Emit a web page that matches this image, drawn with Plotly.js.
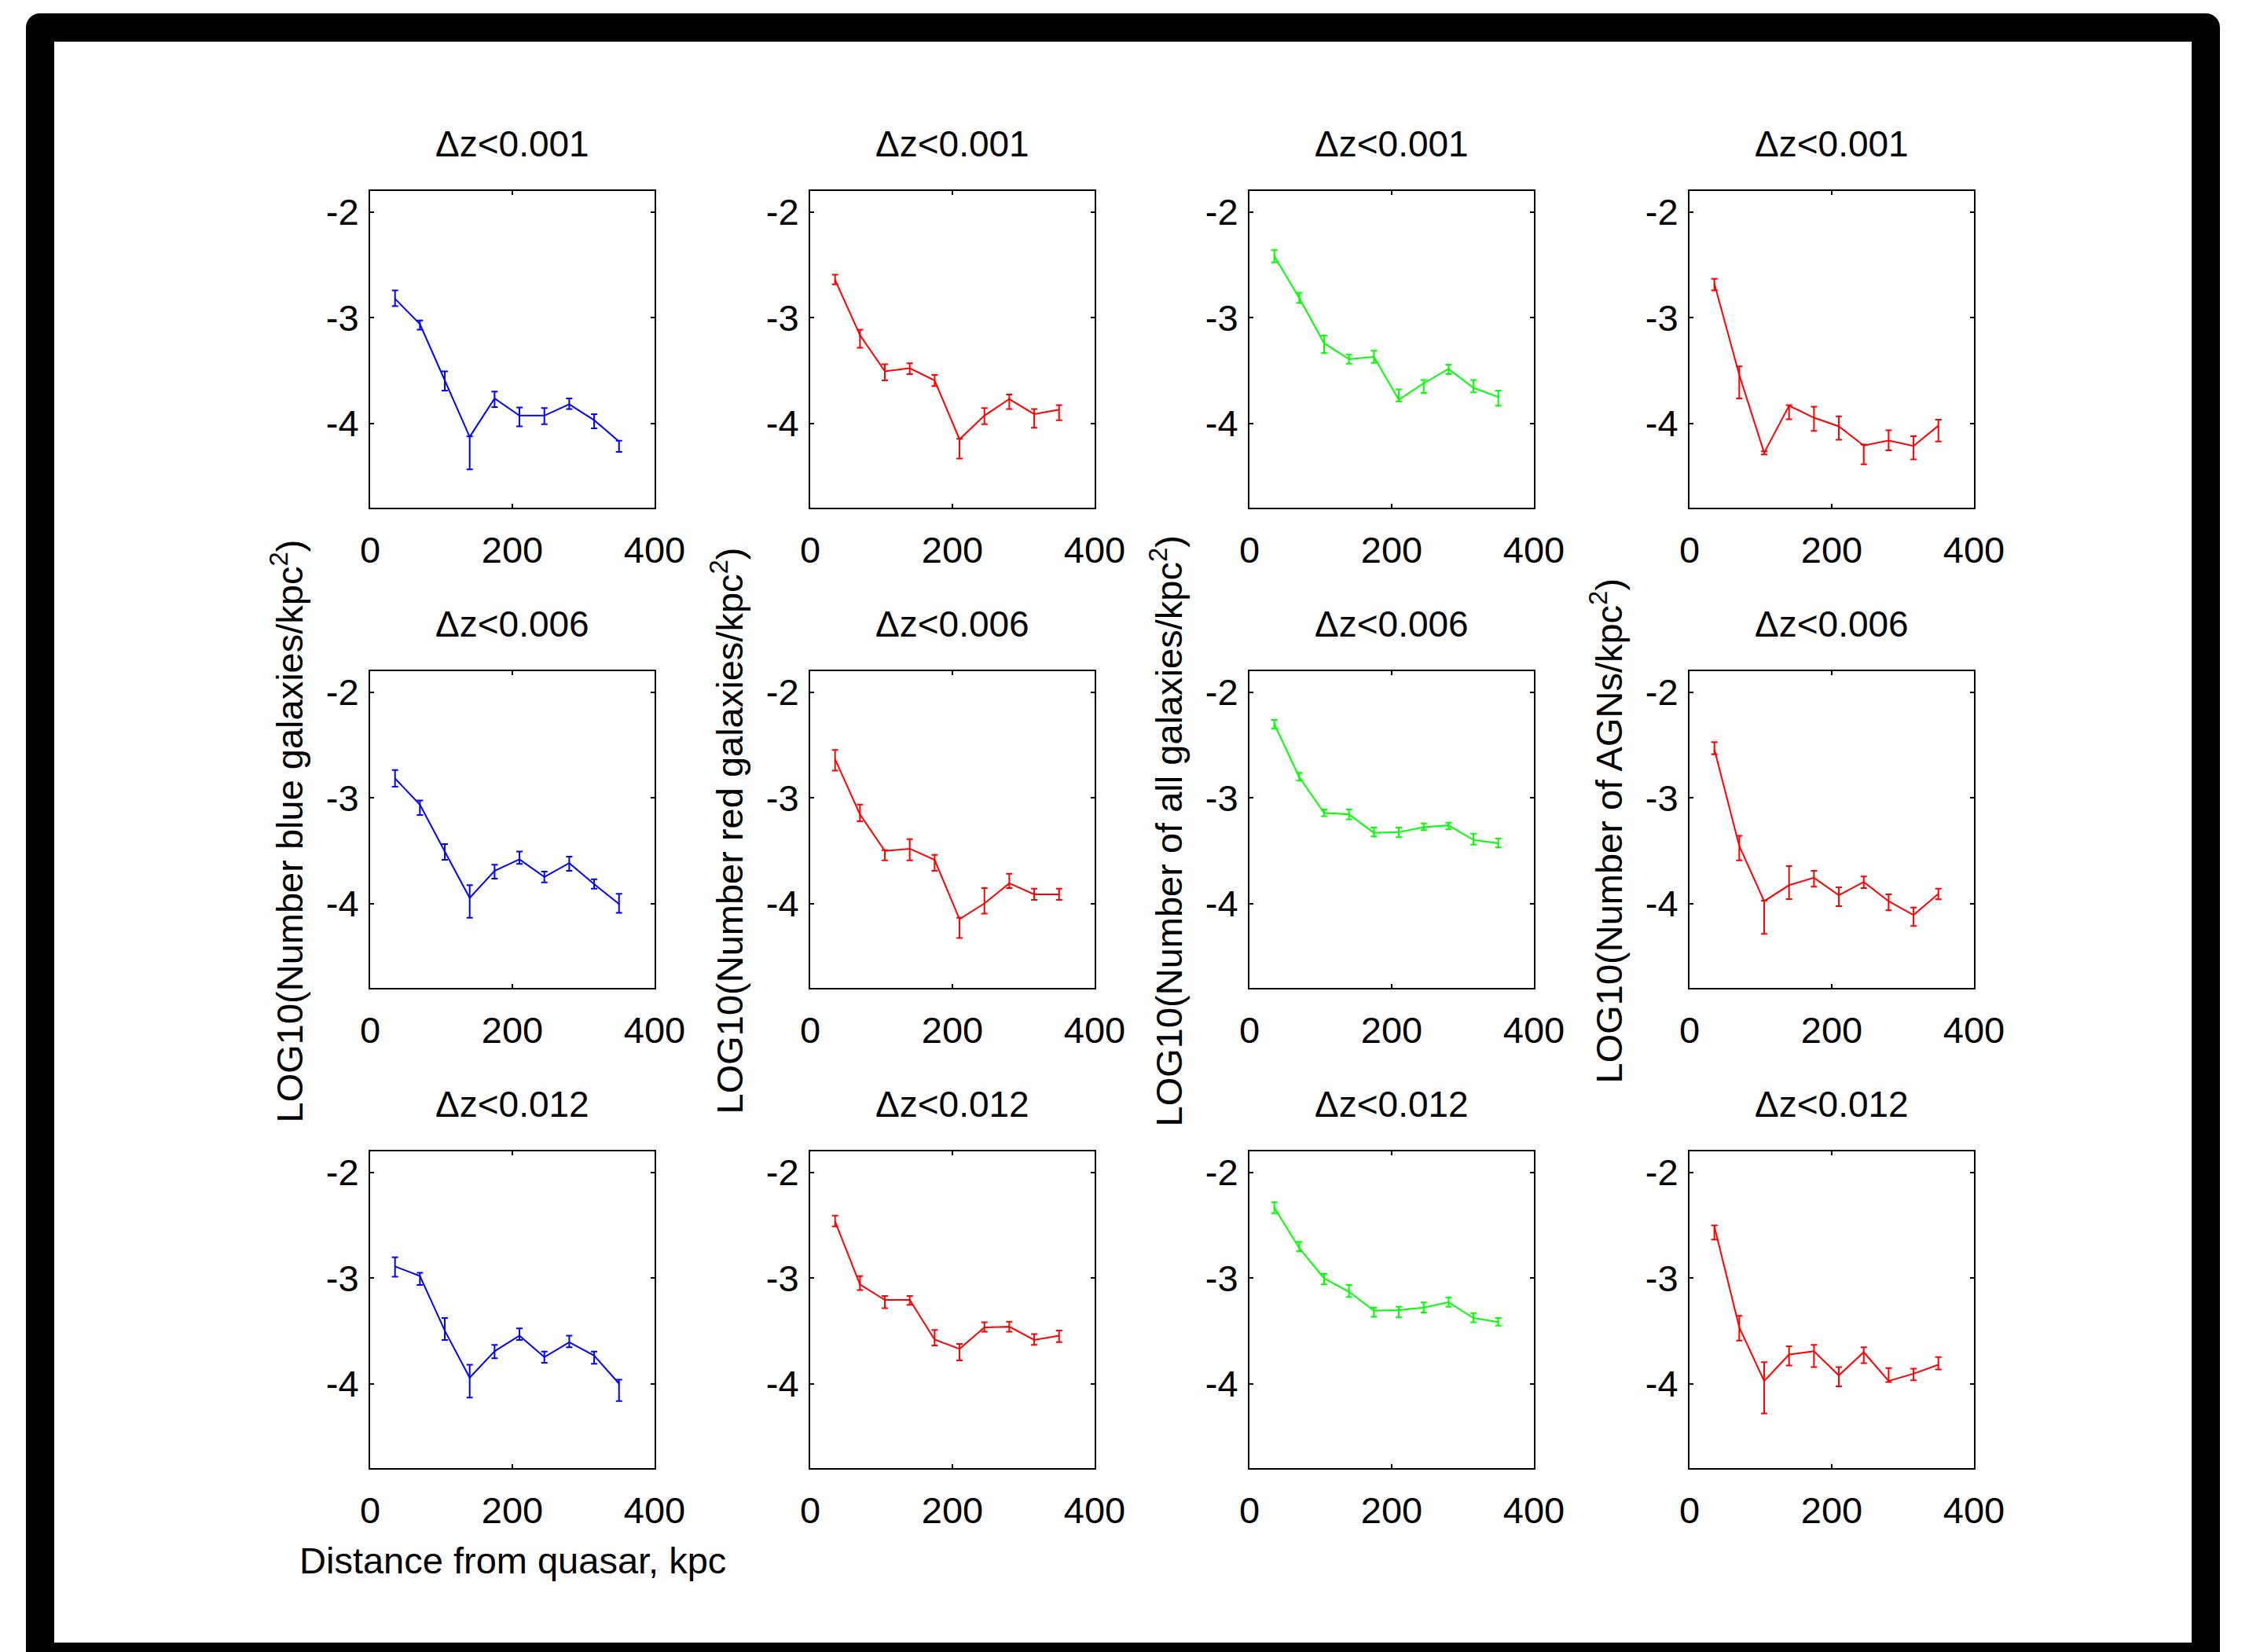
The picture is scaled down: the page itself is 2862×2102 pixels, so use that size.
<!DOCTYPE html>
<html>
<head>
<meta charset="utf-8">
<script src="https://cdn.plot.ly/plotly-3.0.1.min.js"></script>
<style>
  html, body { margin: 0; padding: 0; background: #ffffff; width: 2862px; height: 2102px; overflow: hidden; }
  #outer { position: absolute; left: 33px; top: 17px; width: 2792px; height: 2140px; background: #000; border-radius: 18px; }
  #inner { position: absolute; left: 69px; top: 53px; width: 2720px; height: 2037px; background: #fff; }
  #chart { position: absolute; left: 0; top: 0; width: 2862px; height: 2102px; }
</style>
</head>
<body>
<div id="outer"></div>
<div id="inner"></div>
<div id="chart"></div>
<script>
// ---------------- DATA ----------------
const distance_kpc = [35, 70, 105, 140, 175, 210, 245, 280, 315, 350];
const row_titles = ["\u0394z<0.001", "\u0394z<0.006", "\u0394z<0.012"];
const col_ylabels = [
  "LOG10(Number blue galaxies/kpc<sup>2</sup>)",
  "LOG10(Number red galaxies/kpc<sup>2</sup>)",
  "LOG10(Number of all galaxies/kpc<sup>2</sup>)",
  "LOG10(Number of AGNs/kpc<sup>2</sup>)"
];
const x_label = "Distance from quasar, kpc";
const x_ticks = [0, 200, 400];
const y_ticks = [-4, -3, -2];

// Δz<0.001
const blue_dz001    = [-2.821, -3.061, -3.594, -4.129, -3.765, -3.928, -3.928, -3.820, -3.971, -4.172];
const blue_dz001_up = [0.080, 0.034, 0.086, 0.005, 0.065, 0.077, 0.071, 0.055, 0.057, 0.006];
const blue_dz001_dn = [0.069, 0.052, 0.097, 0.309, 0.083, 0.101, 0.081, 0.046, 0.078, 0.100];

const red_dz001    = [-2.641, -3.165, -3.508, -3.479, -3.594, -4.152, -3.928, -3.771, -3.914, -3.871];
const red_dz001_up = [0.049, 0.052, 0.066, 0.046, 0.052, 0.005, 0.071, 0.043, 0.048, 0.043];
const red_dz001_dn = [0.043, 0.120, 0.086, 0.055, 0.054, 0.183, 0.081, 0.095, 0.129, 0.100];

const all_dz001    = [-2.418, -2.813, -3.242, -3.393, -3.371, -3.777, -3.622, -3.485, -3.665, -3.751];
const all_dz001_up = [0.057, 0.049, 0.072, 0.042, 0.058, 0.097, 0.031, 0.040, 0.074, 0.060];
const all_dz001_dn = [0.057, 0.048, 0.094, 0.043, 0.057, 0.017, 0.092, 0.049, 0.043, 0.083];

const agn_dz001    = [-2.678, -3.542, -4.280, -3.834, -3.948, -4.029, -4.212, -4.163, -4.215, -4.023];
const agn_dz001_up = [0.046, 0.080, 0.014, 0.006, 0.105, 0.095, 0.009, 0.097, 0.092, 0.057];
const agn_dz001_dn = [0.063, 0.223, 0.015, 0.129, 0.124, 0.128, 0.177, 0.094, 0.128, 0.149];

// Δz<0.006
const blue_dz006    = [-2.816, -3.064, -3.508, -3.948, -3.691, -3.582, -3.749, -3.618, -3.817, -4.005];
const blue_dz006_up = [0.079, 0.039, 0.070, 0.121, 0.057, 0.074, 0.050, 0.062, 0.047, 0.097];
const blue_dz006_dn = [0.078, 0.099, 0.079, 0.188, 0.074, 0.044, 0.052, 0.073, 0.044, 0.084];

const red_dz006    = [-2.633, -3.156, -3.503, -3.482, -3.587, -4.149, -4.000, -3.809, -3.914, -3.914];
const red_dz006_up = [0.087, 0.092, 0.008, 0.091, 0.047, 0.013, 0.146, 0.091, 0.053, 0.053];
const red_dz006_dn = [0.109, 0.065, 0.089, 0.110, 0.104, 0.178, 0.097, 0.045, 0.052, 0.052];

const all_dz006    = [-2.301, -2.803, -3.142, -3.156, -3.331, -3.325, -3.278, -3.260, -3.399, -3.430];
const all_dz006_up = [0.040, 0.040, 0.031, 0.045, 0.050, 0.044, 0.036, 0.026, 0.060, 0.044];
const all_dz006_dn = [0.044, 0.034, 0.032, 0.047, 0.034, 0.048, 0.027, 0.039, 0.044, 0.039];

const agn_dz006    = [-2.541, -3.456, -3.979, -3.827, -3.757, -3.922, -3.796, -3.979, -4.110, -3.908];
const agn_dz006_up = [0.070, 0.097, 0.005, 0.180, 0.066, 0.074, 0.052, 0.065, 0.071, 0.047];
const agn_dz006_dn = [0.047, 0.136, 0.309, 0.131, 0.084, 0.104, 0.058, 0.086, 0.104, 0.053];

// Δz<0.012
const blue_dz012    = [-2.890, -2.981, -3.498, -3.944, -3.693, -3.545, -3.749, -3.608, -3.734, -4.000];
const blue_dz012_up = [0.087, 0.031, 0.119, 0.123, 0.060, 0.069, 0.053, 0.063, 0.038, 0.038];
const blue_dz012_dn = [0.097, 0.085, 0.088, 0.188, 0.066, 0.041, 0.054, 0.047, 0.078, 0.166];

const red_dz012    = [-2.464, -3.060, -3.207, -3.207, -3.583, -3.671, -3.467, -3.461, -3.586, -3.545];
const red_dz012_up = [0.056, 0.079, 0.038, 0.038, 0.091, 0.047, 0.047, 0.047, 0.056, 0.047];
const red_dz012_dn = [0.047, 0.053, 0.078, 0.047, 0.056, 0.110, 0.041, 0.047, 0.047, 0.063];

const all_dz012    = [-2.332, -2.715, -3.003, -3.129, -3.310, -3.304, -3.279, -3.229, -3.379, -3.417];
const all_dz012_up = [0.050, 0.057, 0.044, 0.063, 0.031, 0.031, 0.047, 0.044, 0.047, 0.038];
const all_dz012_dn = [0.054, 0.031, 0.057, 0.050, 0.057, 0.069, 0.047, 0.044, 0.041, 0.034];

const agn_dz012    = [-2.511, -3.467, -3.975, -3.724, -3.693, -3.922, -3.702, -3.975, -3.906, -3.821];
const agn_dz012_up = [0.009, 0.110, 0.179, 0.078, 0.060, 0.079, 0.047, 0.122, 0.047, 0.072];
const agn_dz012_dn = [0.125, 0.125, 0.307, 0.104, 0.150, 0.103, 0.104, 0.009, 0.063, 0.044];

const col_colors = ["#0000ff", "#ff0000", "#00ff00", "#ff0000"];

// ---------------- LAYOUT ----------------
const W = 2862, H = 2102;
const colLeft = [471, 1031, 1590, 2150];
const rowTop = [243, 854, 1465];
const PW = 362, PH = 403;
const FONT = "Liberation Sans, Arial, Helvetica, sans-serif";

const grid = [
  [[blue_dz001, blue_dz001_up, blue_dz001_dn], [red_dz001, red_dz001_up, red_dz001_dn], [all_dz001, all_dz001_up, all_dz001_dn], [agn_dz001, agn_dz001_up, agn_dz001_dn]],
  [[blue_dz006, blue_dz006_up, blue_dz006_dn], [red_dz006, red_dz006_up, red_dz006_dn], [all_dz006, all_dz006_up, all_dz006_dn], [agn_dz006, agn_dz006_up, agn_dz006_dn]],
  [[blue_dz012, blue_dz012_up, blue_dz012_dn], [red_dz012, red_dz012_up, red_dz012_dn], [all_dz012, all_dz012_up, all_dz012_dn], [agn_dz012, agn_dz012_up, agn_dz012_dn]]
];

const traces = [];
const layout = {
  width: W, height: H,
  margin: {l: 0, r: 0, t: 0, b: 0, pad: 0},
  paper_bgcolor: "rgba(0,0,0,0)",
  plot_bgcolor: "#ffffff",
  showlegend: false,
  font: {family: FONT, size: 46, color: "#000"},
  annotations: []
};

let n = 0;
for (let r = 0; r < 3; r++) {
  for (let c = 0; c < 4; c++) {
    n++;
    const xa = n === 1 ? "xaxis" : "xaxis" + n;
    const ya = n === 1 ? "yaxis" : "yaxis" + n;
    const [vals, up, dn] = grid[r][c];
    traces.push({
      type: "scatter", mode: "lines",
      x: distance_kpc, y: vals,
      xaxis: "x" + (n === 1 ? "" : n), yaxis: "y" + (n === 1 ? "" : n),
      line: {color: col_colors[c], width: 2},
      error_y: {type: "data", symmetric: false, array: up, arrayminus: dn,
                color: col_colors[c], thickness: 2, width: 4},
      hoverinfo: "skip"
    });
    const x0 = colLeft[c] / W, x1 = (colLeft[c] + PW) / W;
    const y1 = 1 - rowTop[r] / H, y0 = 1 - (rowTop[r] + PH) / H;
    layout[xa] = {
      domain: [x0, x1], anchor: "y" + (n === 1 ? "" : n),
      range: [0, 400], tickvals: x_ticks, ticktext: x_ticks.map(String),
      showgrid: false, zeroline: false,
      showline: true, linecolor: "#000", linewidth: 2, mirror: "ticks",
      ticks: "inside", ticklen: 5, tickwidth: 2, tickcolor: "#000",
      tickfont: {family: FONT, size: 47, color: "#000"},
      ticklabelstandoff: 12
    };
    layout[ya] = {
      domain: [y0, y1], anchor: "x" + (n === 1 ? "" : n),
      range: [-4.8, -1.8], tickvals: y_ticks, ticktext: y_ticks.map(String),
      showgrid: false, zeroline: false,
      showline: true, linecolor: "#000", linewidth: 2, mirror: "ticks",
      ticks: "inside", ticklen: 5, tickwidth: 2, tickcolor: "#000",
      tickfont: {family: FONT, size: 47, color: "#000"},
      ticklabelstandoff: 3
    };
    // panel title
    layout.annotations.push({
      text: row_titles[r], xref: "paper", yref: "paper",
      x: (colLeft[c] + PW / 2) / W, y: 1 - (rowTop[r] - 60) / H,
      xanchor: "center", yanchor: "middle", showarrow: false,
      font: {family: FONT, size: 46, color: "#000"}
    });
  }
}
// y-axis labels (one per column, centred on middle row)
for (let c = 0; c < 4; c++) {
  layout.annotations.push({
    text: col_ylabels[c], xref: "paper", yref: "paper",
    x: (colLeft[c] - 106) / W, y: 1 - (rowTop[1] + PH / 2 + 2) / H,
    xanchor: "center", yanchor: "middle", textangle: -90, showarrow: false,
    font: {family: FONT, size: 47, color: "#000"}
  });
}
// x-axis label (bottom-left panel)
layout.annotations.push({
  text: x_label, xref: "paper", yref: "paper",
  x: (colLeft[0] + PW / 2) / W, y: 1 - 1985 / H,
  xanchor: "center", yanchor: "middle", showarrow: false,
  font: {family: FONT, size: 47, color: "#000"}
});

Plotly.newPlot("chart", traces, layout, {staticPlot: true, displayModeBar: false});
</script>
</body>
</html>
